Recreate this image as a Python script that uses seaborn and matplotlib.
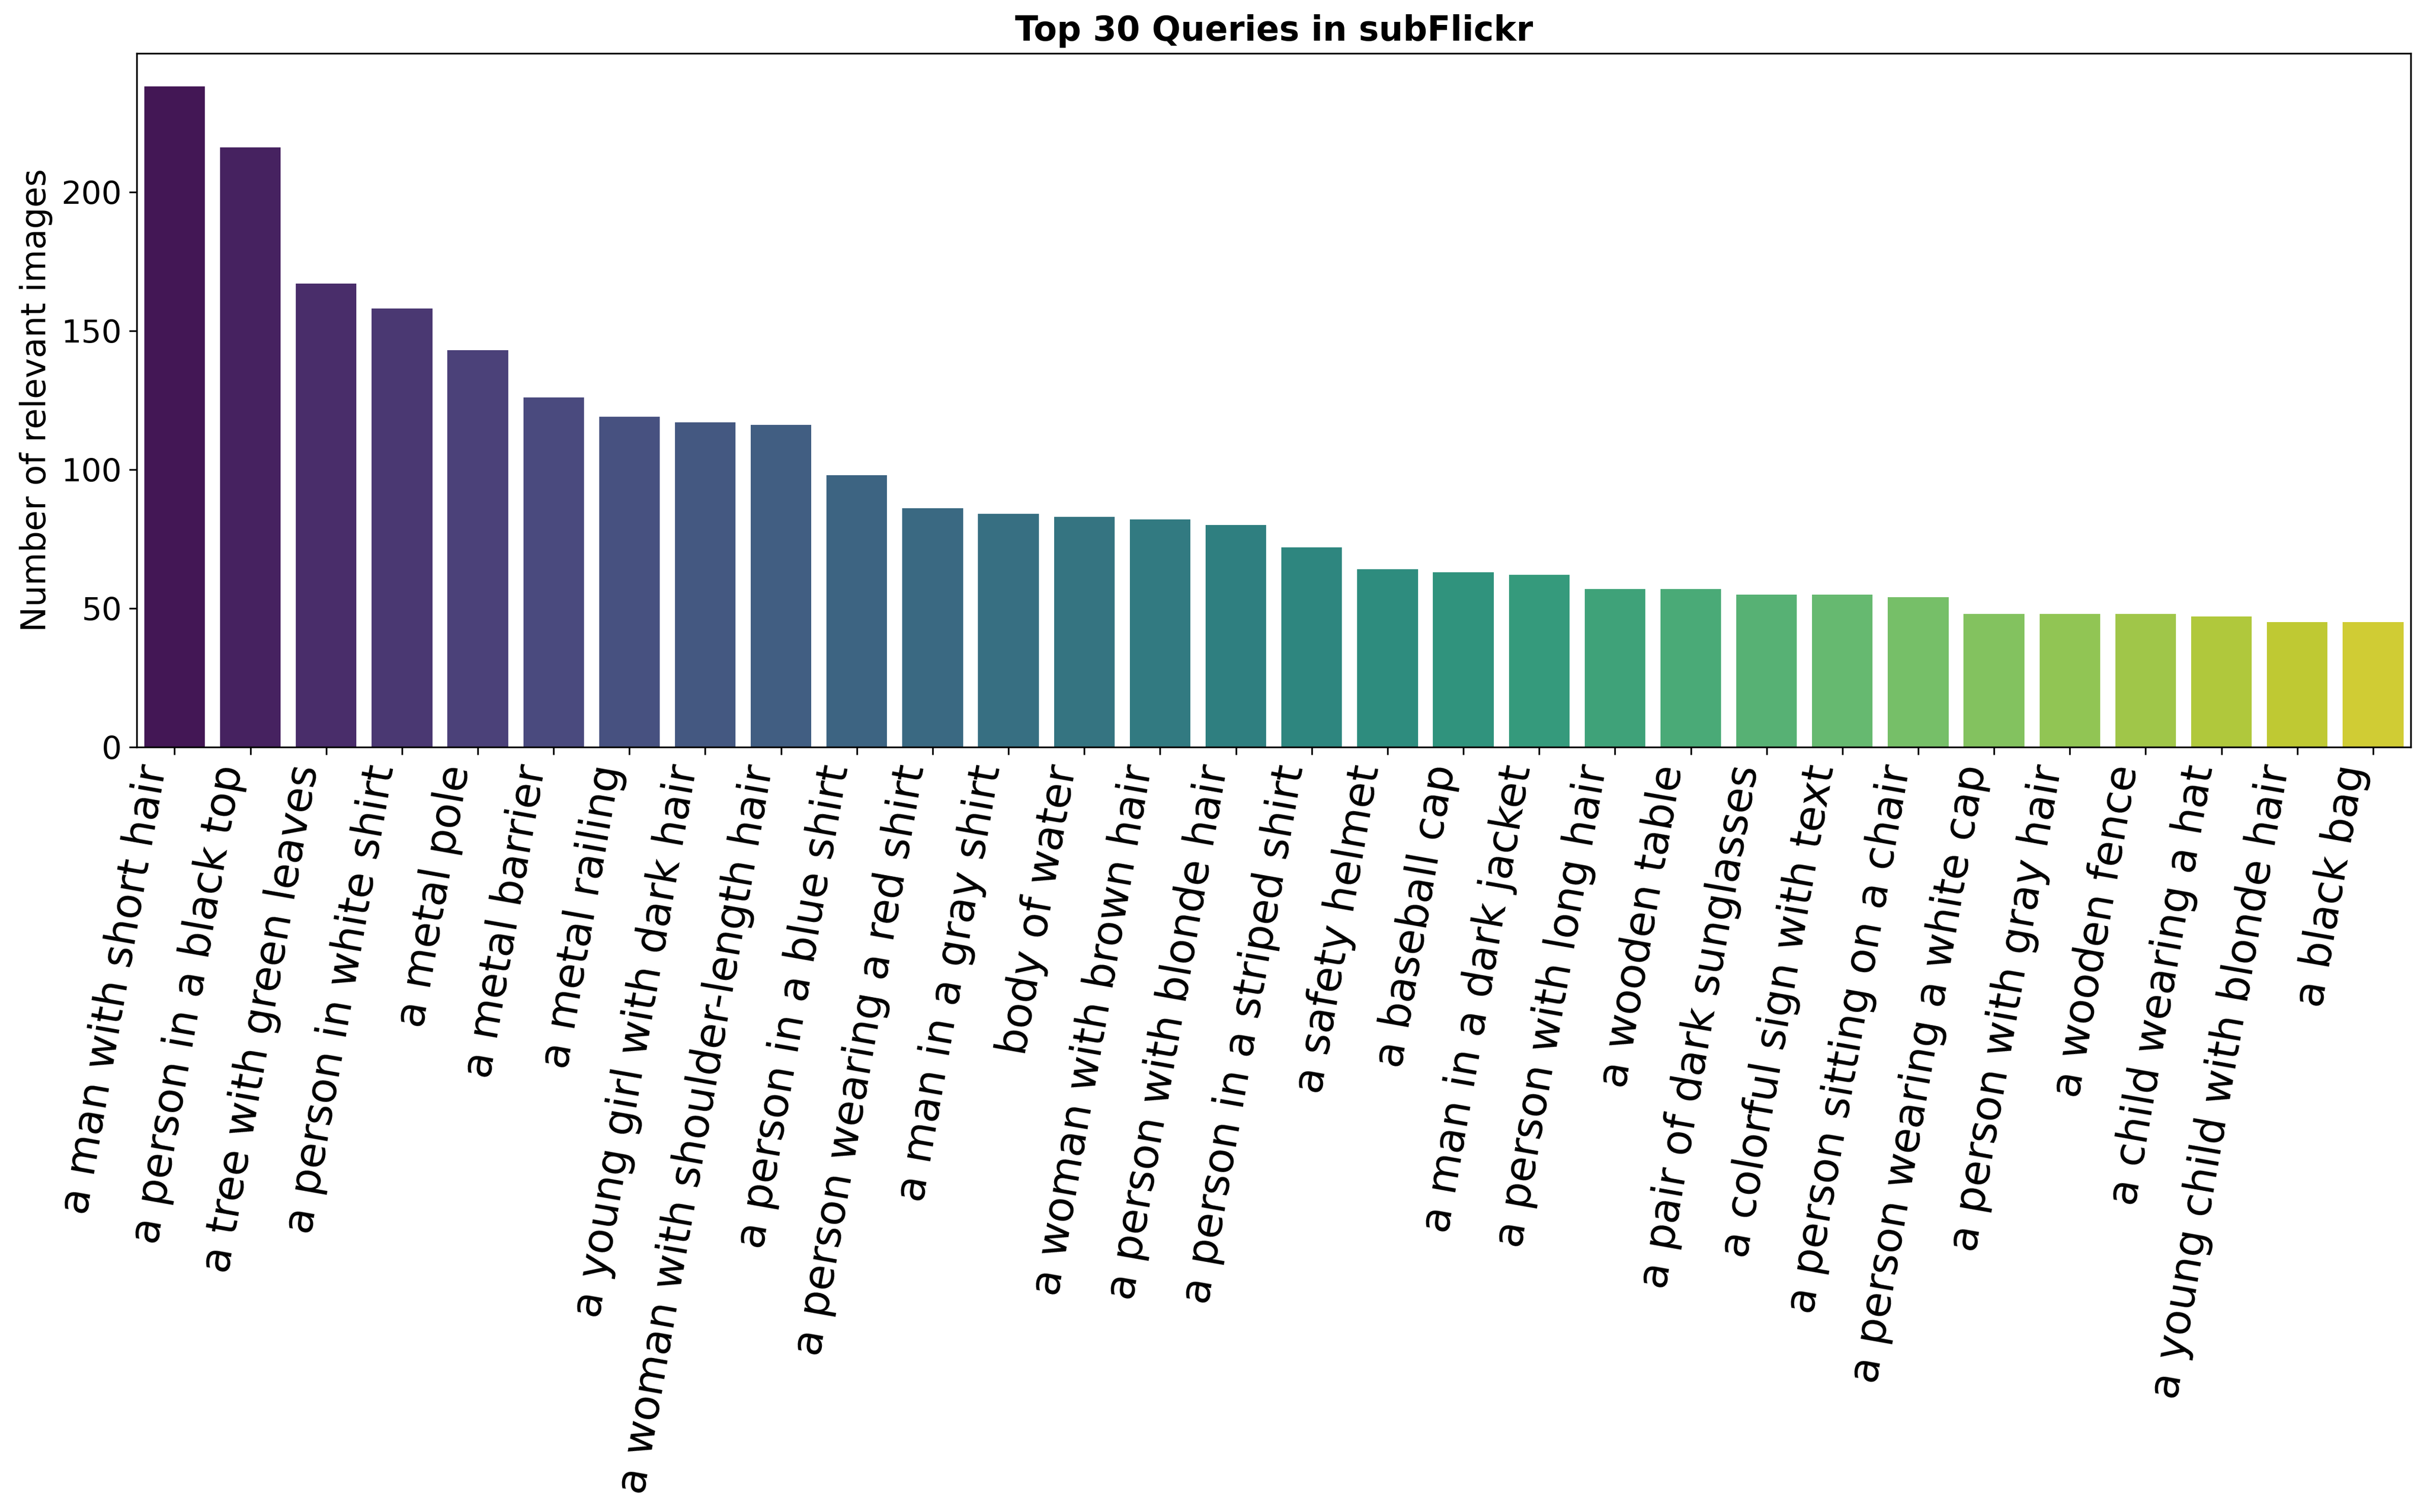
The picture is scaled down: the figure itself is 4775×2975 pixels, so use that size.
import pandas as pd
import matplotlib
matplotlib.use("Agg")
import matplotlib.pyplot as plt
import seaborn as sns

# Query counts
queries = [
    "a man with short hair", "a person in a black top", "a tree with green leaves",
    "a person in white shirt", "a metal pole", "a metal barrier", "a metal railing",
    "a young girl with dark hair", "a woman with shoulder-length hair",
    "a person in a blue shirt", "a person wearing a red shirt", "a man in a gray shirt",
    "body of water", "a woman with brown hair", "a person with blonde hair",
    "a person in a striped shirt", "a safety helmet", "a baseball cap",
    "a man in a dark jacket", "a person with long hair", "a wooden table",
    "a pair of dark sunglasses", "a colorful sign with text", "a person sitting on a chair",
    "a person wearing a white cap", "a person with gray hair", "a wooden fence",
    "a child wearing a hat", "a young child with blonde hair", "a black bag",
]
counts = [238, 216, 167, 158, 143, 126, 119, 117, 116, 98,
          86, 84, 83, 82, 80, 72, 64, 63, 62, 57,
          57, 55, 55, 54, 48, 48, 48, 47, 45, 45]

df = pd.DataFrame({"query": queries, "count": counts})

fig = plt.figure(figsize=(4775 / 300, 2975 / 300), dpi=300)
ax = fig.add_axes([0.0563, 0.5059, 0.9371, 0.4588])

sns.barplot(data=df, x="query", y="count", hue="query",
            palette="viridis", legend=False, ax=ax)

ax.set_title("Top 30 Queries in subFlickr", fontsize=16, fontweight="bold")
ax.set_xlabel("")
ax.set_ylabel("Number of relevant images", fontsize=16)
ax.tick_params(axis="y", labelsize=15)
plt.setp(ax.get_xticklabels(), rotation=80, ha="right", fontsize=20)

fig.savefig("out.png", dpi=300)
